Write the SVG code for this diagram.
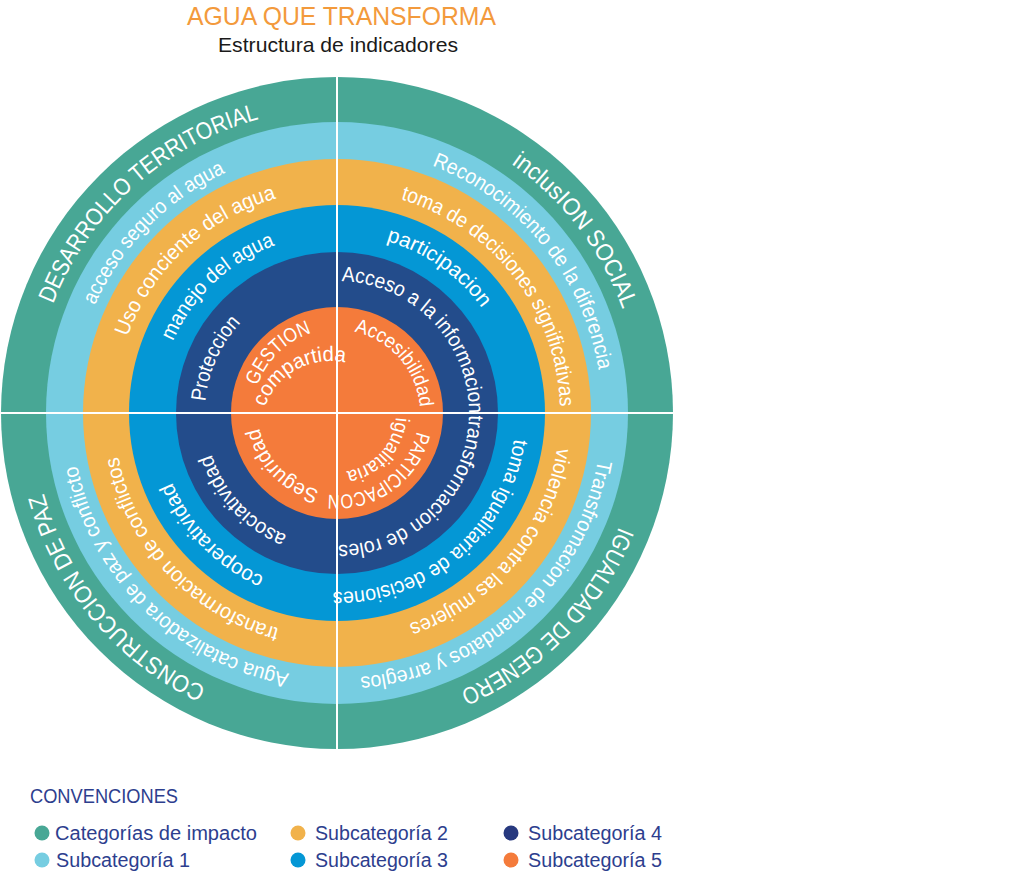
<svg xmlns="http://www.w3.org/2000/svg" width="1024" height="873" viewBox="0 0 1024 873">
<style>
  .ring-text { font-family: "Liberation Sans", Arial, sans-serif; fill: #ffffff; }
  .t-cat { font-size: 24px; }
  .t-sub { font-size: 21px; }
  .legend { font-family: "Liberation Sans", Arial, sans-serif; font-size: 20px; fill: #2D3E8E; }
  .divider { stroke: #ffffff; stroke-width: 2; fill: none; }
</style>
<defs>
  <path id="r304" d="M641 413 A304 304 0 0 1 33 413 A304 304 0 0 1 641 413"/>
  <path id="r265" d="M602 413 A265 265 0 0 1 72 413 A265 265 0 0 1 602 413"/>
  <path id="r223" d="M560 413 A223 223 0 0 1 114 413 A223 223 0 0 1 560 413"/>
  <path id="r179" d="M516 413 A179 179 0 0 1 158 413 A179 179 0 0 1 516 413"/>
  <path id="r132" d="M469 413 A132 132 0 0 1 205 413 A132 132 0 0 1 469 413"/>
  <path id="r84" d="M421 413 A84 84 0 0 1 253 413 A84 84 0 0 1 421 413"/>
  <path id="r83" d="M420 413 A83 83 0 0 1 254 413 A83 83 0 0 1 420 413"/>
  <path id="r82" d="M419 413 A82 82 0 0 1 255 413 A82 82 0 0 1 419 413"/>
  <path id="r79" d="M416 413 A79 79 0 0 1 258 413 A79 79 0 0 1 416 413"/>
  <path id="r59" d="M396 413 A59 59 0 0 1 278 413 A59 59 0 0 1 396 413"/>
  <path id="rcomp" d="M399 430 A69 69 0 0 1 261 430 A69 69 0 0 1 399 430"/>
</defs>

<g id="title">
  <text x="187" y="25" font-family="Liberation Sans, Arial, sans-serif" font-size="26" fill="#F39A3C" textLength="309" lengthAdjust="spacingAndGlyphs">AGUA QUE TRANSFORMA</text>
  <text x="218" y="52" font-family="Liberation Sans, Arial, sans-serif" font-size="21" fill="#1a1a1a" textLength="240" lengthAdjust="spacingAndGlyphs">Estructura de indicadores</text>
</g>

<g id="ring-categorias">
  <circle cx="337" cy="413" r="336" fill="#48A795"/>
  <text class="ring-text t-cat" transform="rotate(201 337 413)"><textPath href="#r304" textLength="287" lengthAdjust="spacingAndGlyphs">DESARROLLO TERRITORIAL</textPath></text>
  <text class="ring-text t-cat" transform="rotate(305 337 413)"><textPath href="#r304" textLength="186" lengthAdjust="spacingAndGlyphs">inclusION SOCIAL</textPath></text>
  <text class="ring-text t-cat" transform="rotate(22 337 413)"><textPath href="#r304" textLength="234" lengthAdjust="spacingAndGlyphs">IGUALDAD DE GENERO</textPath></text>
  <text class="ring-text t-cat" transform="rotate(115.5 337 413)"><textPath href="#r304" textLength="261" lengthAdjust="spacingAndGlyphs">CONSTRUCCION DE PAZ</textPath></text>
</g>

<g id="ring-subcategoria-1">
  <circle cx="337" cy="413" r="291" fill="#76CDE1"/>
  <text class="ring-text t-sub" transform="rotate(204 337 413)"><textPath href="#r265" textLength="190" lengthAdjust="spacingAndGlyphs">acceso seguro al agua</textPath></text>
  <text class="ring-text t-sub" transform="rotate(291 337 413)"><textPath href="#r265" textLength="276" lengthAdjust="spacingAndGlyphs">Reconocimiento de la diferencia</textPath></text>
  <text class="ring-text t-sub" transform="rotate(10.2 337 413)"><textPath href="#r265" textLength="346" lengthAdjust="spacingAndGlyphs">Transfromacion de mandatos y arreglos</textPath></text>
  <text class="ring-text t-sub" transform="rotate(100.4 337 413)"><textPath href="#r265" textLength="315" lengthAdjust="spacingAndGlyphs">Agua catalizadora de paz y conflicto</textPath></text>
</g>

<g id="ring-subcategoria-2">
  <circle cx="337" cy="413" r="254" fill="#F1B24B"/>
  <text class="ring-text t-sub" transform="rotate(200 337 413)"><textPath href="#r223" textLength="211" lengthAdjust="spacingAndGlyphs">Uso conciente del agua</textPath></text>
  <text class="ring-text t-sub" transform="rotate(286.6 337 413)"><textPath href="#r223" textLength="279" lengthAdjust="spacingAndGlyphs">toma de decisiones significativas</textPath></text>
  <text class="ring-text t-sub" transform="rotate(9 337 413)"><textPath href="#r223" textLength="242" lengthAdjust="spacingAndGlyphs">violencia contra las mujeres</textPath></text>
  <text class="ring-text t-sub" transform="rotate(105 337 413)"><textPath href="#r223" textLength="248" lengthAdjust="spacingAndGlyphs">transformacion de conflictos</textPath></text>
</g>

<g id="ring-subcategoria-3">
  <circle cx="337" cy="413" r="208" fill="#0497D5"/>
  <text class="ring-text t-sub" transform="rotate(203.6 337 413)"><textPath href="#r179" textLength="144" lengthAdjust="spacingAndGlyphs">manejo del agua</textPath></text>
  <text class="ring-text t-sub" transform="rotate(286 337 413)"><textPath href="#r179" textLength="119" lengthAdjust="spacingAndGlyphs">participacion</textPath></text>
  <text class="ring-text t-sub" transform="rotate(8.4 337 413)"><textPath href="#r179" textLength="259" lengthAdjust="spacingAndGlyphs">toma igualitaria de decisiones</textPath></text>
  <text class="ring-text t-sub" transform="rotate(114 337 413)"><textPath href="#r179" textLength="135" lengthAdjust="spacingAndGlyphs">cooperatividad</textPath></text>
</g>

<g id="ring-subcategoria-4">
  <circle cx="337" cy="413" r="161" fill="#234C8B"/>
  <text class="ring-text t-sub" transform="rotate(185 337 413)"><textPath href="#r132" textLength="88" lengthAdjust="spacingAndGlyphs">Proteccion</textPath></text>
  <text class="ring-text t-sub" transform="rotate(272 337 413)"><textPath href="#r132" textLength="203" lengthAdjust="spacingAndGlyphs">Acceso a la informacion</textPath></text>
  <text class="ring-text t-sub" transform="rotate(1 337 413)"><textPath href="#r132" textLength="204" lengthAdjust="spacingAndGlyphs">transformacion de roles</textPath></text>
  <text class="ring-text t-sub" transform="rotate(112.3 337 413)"><textPath href="#r132" textLength="114" lengthAdjust="spacingAndGlyphs">asociatividad</textPath></text>
</g>

<g id="ring-subcategoria-5">
  <circle cx="337" cy="413" r="106" fill="#F47B3B"/>
  <text class="ring-text" font-size="20" transform="rotate(199 337 413)"><textPath href="#r84" textLength="78" lengthAdjust="spacingAndGlyphs">GESTION</textPath></text>
  <text class="ring-text" font-size="21" transform="rotate(199.4 330 430)"><textPath href="#rcomp" textLength="100" lengthAdjust="spacingAndGlyphs">compartida</textPath></text>
  <text class="ring-text" font-size="20" transform="rotate(282 337 413)"><textPath href="#r83" textLength="107" lengthAdjust="spacingAndGlyphs">Accesibilidad</textPath></text>
  <text class="ring-text" font-size="20" transform="rotate(13 337 413)"><textPath href="#r82" textLength="119" lengthAdjust="spacingAndGlyphs">PARTICIPACON</textPath></text>
  <text class="ring-text" font-size="20" transform="rotate(4.2 337 413)"><textPath href="#r59" textLength="79" lengthAdjust="spacingAndGlyphs">igualitaria</textPath></text>
  <text class="ring-text" font-size="21" transform="rotate(103 337 413)"><textPath href="#r79" textLength="91" lengthAdjust="spacingAndGlyphs">Seguridad</textPath></text>
</g>

<g id="dividers">
  <line class="divider" x1="337" y1="77" x2="337" y2="749"/>
  <line class="divider" x1="1" y1="413" x2="673" y2="413"/>
</g>

<g id="legend">
  <text class="legend" x="30" y="803" textLength="148" lengthAdjust="spacingAndGlyphs">CONVENCIONES</text>
  <g id="legend-categorias"><circle cx="42" cy="833" r="7.5" fill="#48A795"/><text class="legend" x="55" y="840" textLength="202" lengthAdjust="spacingAndGlyphs">Categorías de impacto</text></g>
  <g id="legend-sub1"><circle cx="42" cy="860" r="7.5" fill="#76CDE1"/><text class="legend" x="56" y="867" textLength="134" lengthAdjust="spacingAndGlyphs">Subcategoría 1</text></g>
  <g id="legend-sub2"><circle cx="298" cy="833" r="7.5" fill="#F1B24B"/><text class="legend" x="315" y="840" textLength="133" lengthAdjust="spacingAndGlyphs">Subcategoría 2</text></g>
  <g id="legend-sub3"><circle cx="298" cy="860" r="7.5" fill="#0497D5"/><text class="legend" x="315" y="867" textLength="133" lengthAdjust="spacingAndGlyphs">Subcategoría 3</text></g>
  <g id="legend-sub4"><circle cx="511" cy="833" r="7.5" fill="#27397F"/><text class="legend" x="528" y="840" textLength="134" lengthAdjust="spacingAndGlyphs">Subcategoría 4</text></g>
  <g id="legend-sub5"><circle cx="511" cy="860" r="7.5" fill="#F47B3B"/><text class="legend" x="528" y="867" textLength="134" lengthAdjust="spacingAndGlyphs">Subcategoría 5</text></g>
</g>
</svg>
